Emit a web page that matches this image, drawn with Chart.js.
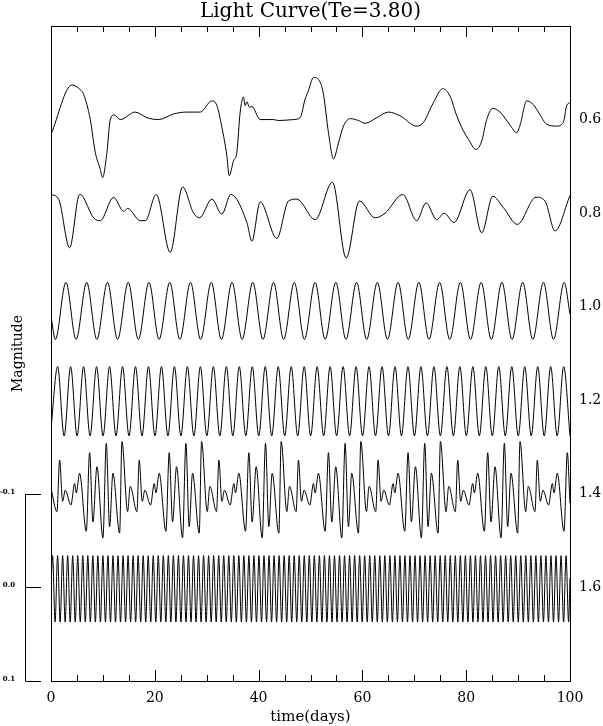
<!DOCTYPE html>
<html>
<head>
<meta charset="utf-8">
<title>Light Curve(Te=3.80)</title>
<script src="https://cdn.jsdelivr.net/npm/chart.js@4.4.1/dist/chart.umd.min.js"></script>
<style>
  body { margin: 0; background: #fff; }
  canvas { display: block; }
</style>
</head>
<body>
<canvas id="lightCurve" width="603" height="726"></canvas>
<script>
// curve labels (right side) and the magnitude offset each curve is drawn at
const curveLabels = ['0.6', '0.8', '1.0', '1.2', '1.4', '1.6'];
const curveOffsets = [-0.5, -0.4, -0.3, -0.2, -0.1, 0.0];
const scaleBarTicks = [-0.1, 0.0, 0.1];
const xTickLabels = [0, 20, 40, 60, 80, 100];

// 0.6
const t06 = [0, 4.04, 5.64, 6.28, 7.57, 8.53, 9.49, 9.94, 10.78, 11.42, 12.19, 13.34, 16.23, 18.48, 20.73, 23.61, 26.18, 28.75, 31.0, 31.96,
  32.92, 33.89, 34.33, 35.17, 35.81, 36.45, 37.09, 37.41, 37.74, 38.25, 38.70, 40.30, 42.87, 43.83, 46.72, 48.0, 48.97, 49.61, 50.57, 51.86,
  52.50, 53.46, 54.43, 55.39, 56.35, 57.64, 59.24, 60.52, 62.77, 65.02, 67.26, 70.47, 71.76, 73.68, 75.48, 76.89, 78.18, 79.46, 80.42, 81.90,
  82.99, 83.95, 85.11, 86.52, 88.45, 89.73, 90.37, 91.66, 92.94, 93.90, 95.51, 97.43, 98.72, 99.36, 100];
const m06 = [0.016, -0.037, -0.032, -0.027, 0.000, 0.035, 0.053, 0.062, 0.035, 0.000, -0.005, 0.000, -0.008, -0.002, 0.000, -0.006, -0.008, -0.008, -0.020, -0.015,
  0.008, 0.039, 0.060, 0.044, 0.035, -0.008, -0.024, -0.015, -0.019, -0.013, -0.014, 0.000, 0.000, 0.001, 0.000, -0.002, -0.022, -0.031, -0.045, -0.040,
  -0.027, 0.014, 0.042, 0.025, 0.007, -0.001, 0.001, 0.004, -0.002, -0.008, -0.004, 0.007, 0.003, -0.018, -0.033, -0.025, -0.004, 0.012, 0.021, 0.032,
  0.023, 0.000, -0.012, -0.008, 0.006, 0.014, 0.006, -0.020, -0.016, -0.008, 0.005, 0.007, 0.003, -0.015, -0.018];

// 0.8
const t08 = [0, 1.47, 3.59, 5.51, 5.96, 8.21, 9.49, 12.06, 13.99, 14.76, 17.20, 18.16, 20.28, 22.97, 25.35, 27.47, 28.62, 31.0, 32.92, 34.66,
  37.74, 38.70, 40.30, 43.51, 45.76, 47.37, 50.9, 54.23, 56.87, 59.43, 62.45, 64.38, 67.78, 70.47, 72.27, 74.32, 75.74, 77.66, 80.74, 82.99,
  85.11, 87.16, 89.86, 93.45, 95.19, 97.11, 100];
const m08 = [-0.020, -0.015, 0.037, -0.020, -0.019, 0.005, 0.008, -0.017, -0.002, -0.005, 0.008, 0.008, -0.020, 0.042, -0.028, 0.000, 0.005, -0.015, 0.001, -0.020,
  0.010, 0.030, -0.012, 0.027, -0.013, -0.015, 0.007, -0.033, 0.048, -0.013, 0.005, 0.000, -0.020, 0.008, -0.011, 0.007, 0.000, 0.010, -0.025, 0.021,
  -0.018, -0.006, 0.012, -0.017, -0.013, 0.019, -0.019];

// 1.0
const t10 = [0, 0.83, 2.88, 4.83, 6.88, 8.83, 10.88, 12.83, 14.88, 16.83, 18.88, 20.83, 22.88, 24.83, 26.88, 28.83, 30.88, 32.83, 34.88, 36.83,
  38.88, 40.83, 42.88, 44.83, 46.88, 48.83, 50.88, 52.83, 54.88, 56.83, 58.88, 60.83, 62.88, 64.83, 66.88, 68.83, 70.88, 72.83, 74.88, 76.83,
  78.88, 80.83, 82.88, 84.83, 86.88, 88.83, 90.88, 92.83, 94.88, 96.83, 98.88, 100];
const m10 = [0.010, 0.035, -0.026, 0.035, -0.026, 0.035, -0.026, 0.035, -0.026, 0.035, -0.026, 0.035, -0.026, 0.035, -0.026, 0.035, -0.026, 0.035, -0.026, 0.035,
  -0.026, 0.035, -0.026, 0.035, -0.026, 0.035, -0.026, 0.035, -0.026, 0.035, -0.026, 0.035, -0.026, 0.035, -0.026, 0.035, -0.026, 0.035, -0.026, 0.035,
  -0.026, 0.035, -0.026, 0.035, -0.026, 0.035, -0.026, 0.035, -0.026, 0.035, -0.026, 0.008];

// 1.2
const t12 = [0, 1.28, 2.53, 3.78, 5.03, 6.28, 7.53, 8.78, 10.03, 11.28, 12.53, 13.78, 15.03, 16.28, 17.53, 18.78, 20.03, 21.28, 22.53, 23.78,
  25.03, 26.28, 27.53, 28.78, 30.03, 31.28, 32.53, 33.78, 35.03, 36.28, 37.53, 38.78, 40.03, 41.28, 42.53, 43.78, 45.03, 46.28, 47.53, 48.78,
  50.03, 51.28, 52.53, 53.78, 55.03, 56.28, 57.53, 58.78, 60.03, 61.28, 62.53, 63.78, 65.03, 66.28, 67.53, 68.78, 70.03, 71.28, 72.53, 73.78,
  75.03, 76.28, 77.53, 78.78, 80.03, 81.28, 82.53, 83.78, 85.03, 86.28, 87.53, 88.78, 90.03, 91.28, 92.53, 93.78, 95.03, 96.28, 97.53, 98.78, 100];
const m12 = [0.030, -0.036, 0.038, -0.036, 0.038, -0.036, 0.038, -0.036, 0.038, -0.036, 0.038, -0.036, 0.038, -0.036, 0.038, -0.036, 0.038, -0.036, 0.038, -0.036,
  0.038, -0.036, 0.038, -0.036, 0.038, -0.036, 0.038, -0.036, 0.038, -0.036, 0.038, -0.036, 0.038, -0.036, 0.038, -0.036, 0.038, -0.036, 0.038, -0.036,
  0.038, -0.036, 0.038, -0.036, 0.038, -0.036, 0.038, -0.036, 0.038, -0.036, 0.038, -0.036, 0.038, -0.036, 0.038, -0.036, 0.038, -0.036, 0.038, -0.036,
  0.038, -0.036, 0.038, -0.036, 0.038, -0.036, 0.038, -0.036, 0.038, -0.036, 0.038, -0.036, 0.038, -0.036, 0.038, -0.036, 0.038, -0.036, 0.038, -0.036, 0.038];

// 1.4
const t14 = [0, 1.15,
  1.66, 2.24, 2.75, 3.84, 4.55, 4.87, 5.51, 6.80, 7.44, 8.08, 8.85, 10.01, 10.65, 11.29, 11.93, 13.22, 13.67, 14.76, 15.27, 16.55,
  17.00, 17.58, 18.09, 19.18, 19.89, 20.21, 20.85, 22.14, 22.78, 23.42, 24.19, 25.35, 25.99, 26.63, 27.27, 28.56, 29.01, 30.10, 30.61, 31.89,
  32.34, 32.92, 33.43, 34.52, 35.23, 35.55, 36.19, 37.48, 38.12, 38.76, 39.53, 40.69, 41.33, 41.97, 42.61, 43.90, 44.35, 45.44, 45.95, 47.23,
  47.68, 48.26, 48.77, 49.86, 50.57, 50.89, 51.53, 52.82, 53.46, 54.10, 54.87, 56.03, 56.67, 57.31, 57.95, 59.24, 59.69, 60.78, 61.29, 62.57,
  63.02, 63.60, 64.11, 65.20, 65.91, 66.23, 66.87, 68.16, 68.80, 69.44, 70.21, 71.37, 72.01, 72.65, 73.29, 74.58, 75.03, 76.12, 76.63, 77.91,
  78.36, 78.94, 79.45, 80.54, 81.25, 81.57, 82.21, 83.50, 84.14, 84.78, 85.55, 86.71, 87.35, 87.99, 88.63, 89.92, 90.37, 91.46, 91.97, 93.25,
  93.70, 94.28, 94.79, 95.88, 96.59, 96.91, 97.55, 98.84, 99.48, 100];
const m14 = [-0.006, 0.019,
  -0.036, 0.008, -0.004, 0.012, -0.011, -0.001, -0.022, 0.040, -0.044, 0.030, -0.029, 0.047, -0.054, 0.035, -0.022, 0.042, -0.056, 0.019, -0.008, 0.019,
  -0.036, 0.008, -0.004, 0.012, -0.011, -0.001, -0.022, 0.040, -0.044, 0.030, -0.029, 0.047, -0.054, 0.035, -0.022, 0.042, -0.056, 0.019, -0.008, 0.019,
  -0.036, 0.008, -0.004, 0.012, -0.011, -0.001, -0.022, 0.040, -0.044, 0.030, -0.029, 0.047, -0.054, 0.035, -0.022, 0.042, -0.056, 0.019, -0.008, 0.019,
  -0.036, 0.008, -0.004, 0.012, -0.011, -0.001, -0.022, 0.040, -0.044, 0.030, -0.029, 0.047, -0.054, 0.035, -0.022, 0.042, -0.056, 0.019, -0.008, 0.019,
  -0.036, 0.008, -0.004, 0.012, -0.011, -0.001, -0.022, 0.040, -0.044, 0.030, -0.029, 0.047, -0.054, 0.035, -0.022, 0.042, -0.056, 0.019, -0.008, 0.019,
  -0.036, 0.008, -0.004, 0.012, -0.011, -0.001, -0.022, 0.040, -0.044, 0.030, -0.029, 0.047, -0.054, 0.035, -0.022, 0.042, -0.056, 0.019, -0.008, 0.019,
  -0.036, 0.008, -0.004, 0.012, -0.011, -0.001, -0.022, 0.040, -0.044, 0.010];

// 1.6
const t16 = [0,
  0.30, 0.79, 1.27, 1.76, 2.24, 2.73, 3.21, 3.70, 4.18, 4.67, 5.15, 5.64, 6.12, 6.61, 7.09, 7.58, 8.06, 8.55, 9.03, 9.52,
  10.00, 10.49, 10.97, 11.46, 11.94, 12.43, 12.91, 13.40, 13.88, 14.37, 14.85, 15.34, 15.82, 16.31, 16.79, 17.28, 17.76, 18.25, 18.73, 19.22,
  19.70, 20.19, 20.67, 21.16, 21.64, 22.13, 22.61, 23.10, 23.58, 24.07, 24.55, 25.04, 25.52, 26.01, 26.49, 26.98, 27.46, 27.95, 28.43, 28.92,
  29.40, 29.89, 30.37, 30.86, 31.34, 31.83, 32.31, 32.80, 33.28, 33.77, 34.25, 34.74, 35.22, 35.71, 36.19, 36.68, 37.16, 37.65, 38.13, 38.62,
  39.10, 39.59, 40.07, 40.56, 41.04, 41.53, 42.01, 42.50, 42.98, 43.47, 43.95, 44.44, 44.92, 45.41, 45.89, 46.38, 46.86, 47.35, 47.83, 48.32,
  48.80, 49.29, 49.77, 50.26, 50.74, 51.23, 51.71, 52.20, 52.68, 53.17, 53.65, 54.14, 54.62, 55.11, 55.59, 56.08, 56.56, 57.05, 57.53, 58.02,
  58.50, 58.99, 59.47, 59.96, 60.44, 60.93, 61.41, 61.90, 62.38, 62.87, 63.35, 63.84, 64.32, 64.81, 65.29, 65.78, 66.26, 66.75, 67.23, 67.72,
  68.20, 68.69, 69.17, 69.66, 70.14, 70.63, 71.11, 71.60, 72.08, 72.57, 73.05, 73.54, 74.02, 74.51, 74.99, 75.48, 75.96, 76.45, 76.93, 77.42,
  77.90, 78.39, 78.87, 79.36, 79.84, 80.33, 80.81, 81.30, 81.78, 82.27, 82.75, 83.24, 83.72, 84.21, 84.69, 85.18, 85.66, 86.15, 86.63, 87.12,
  87.60, 88.09, 88.57, 89.06, 89.54, 90.03, 90.51, 91.00, 91.48, 91.97, 92.45, 92.94, 93.42, 93.91, 94.39, 94.88, 95.36, 95.85, 96.33, 96.82,
  97.30, 97.79, 98.27, 98.76, 99.24, 99.73, 100];
const m16 = [0.000,
  -0.034, 0.037, -0.034, 0.037, -0.034, 0.037, -0.034, 0.037, -0.034, 0.037, -0.034, 0.037, -0.034, 0.037, -0.034, 0.037, -0.034, 0.037, -0.034, 0.037,
  -0.034, 0.037, -0.034, 0.037, -0.034, 0.037, -0.034, 0.037, -0.034, 0.037, -0.034, 0.037, -0.034, 0.037, -0.034, 0.037, -0.034, 0.037, -0.034, 0.037,
  -0.034, 0.037, -0.034, 0.037, -0.034, 0.037, -0.034, 0.037, -0.034, 0.037, -0.034, 0.037, -0.034, 0.037, -0.034, 0.037, -0.034, 0.037, -0.034, 0.037,
  -0.034, 0.037, -0.034, 0.037, -0.034, 0.037, -0.034, 0.037, -0.034, 0.037, -0.034, 0.037, -0.034, 0.037, -0.034, 0.037, -0.034, 0.037, -0.034, 0.037,
  -0.034, 0.037, -0.034, 0.037, -0.034, 0.037, -0.034, 0.037, -0.034, 0.037, -0.034, 0.037, -0.034, 0.037, -0.034, 0.037, -0.034, 0.037, -0.034, 0.037,
  -0.034, 0.037, -0.034, 0.037, -0.034, 0.037, -0.034, 0.037, -0.034, 0.037, -0.034, 0.037, -0.034, 0.037, -0.034, 0.037, -0.034, 0.037, -0.034, 0.037,
  -0.034, 0.037, -0.034, 0.037, -0.034, 0.037, -0.034, 0.037, -0.034, 0.037, -0.034, 0.037, -0.034, 0.037, -0.034, 0.037, -0.034, 0.037, -0.034, 0.037,
  -0.034, 0.037, -0.034, 0.037, -0.034, 0.037, -0.034, 0.037, -0.034, 0.037, -0.034, 0.037, -0.034, 0.037, -0.034, 0.037, -0.034, 0.037, -0.034, 0.037,
  -0.034, 0.037, -0.034, 0.037, -0.034, 0.037, -0.034, 0.037, -0.034, 0.037, -0.034, 0.037, -0.034, 0.037, -0.034, 0.037, -0.034, 0.037, -0.034, 0.037,
  -0.034, 0.037, -0.034, 0.037, -0.034, 0.037, -0.034, 0.037, -0.034, 0.037, -0.034, 0.037, -0.034, 0.037, -0.034, 0.037, -0.034, 0.037, -0.034, 0.037,
  -0.034, 0.037, -0.034, 0.037, -0.034, 0.037, -0.010];

const curveTimes = [t06, t08, t10, t12, t14, t16];
const curveMags = [m06, m08, m10, m12, m14, m16];

Chart.defaults.font.family = "'DejaVu Serif', serif";
Chart.defaults.color = '#000';

// box, inward ticks and the little magnitude scale bar on the left
const framePlugin = {
  id: 'frame',
  afterDatasetsDraw(chart) {
    const { ctx, chartArea: a, scales: { x, y } } = chart;
    ctx.save();
    ctx.strokeStyle = '#000';
    ctx.lineWidth = 1;
    ctx.strokeRect(a.left + 0.5, a.top + 0.5, a.right - a.left, a.bottom - a.top);

    ctx.beginPath();
    x.ticks.forEach(tick => {
      const px = Math.round(x.getPixelForValue(tick.value)) + 0.5;
      const len = xTickLabels.includes(tick.value) ? 11 : 6;
      ctx.moveTo(px, a.bottom);
      ctx.lineTo(px, a.bottom - len);
      ctx.moveTo(px, a.top);
      ctx.lineTo(px, a.top + len);
    });
    ctx.stroke();

    const barX = 25.5;
    ctx.beginPath();
    ctx.moveTo(barX, y.getPixelForValue(scaleBarTicks[0]));
    ctx.lineTo(barX, y.getPixelForValue(scaleBarTicks[scaleBarTicks.length - 1]));
    scaleBarTicks.forEach(v => {
      const py = Math.round(y.getPixelForValue(v)) + 0.5;
      ctx.moveTo(barX, py);
      ctx.lineTo(41, py);
    });
    ctx.stroke();

    ctx.fillStyle = '#000';
    ctx.font = "bold 7px 'DejaVu Serif'";
    ctx.textAlign = 'right';
    ctx.textBaseline = 'middle';
    scaleBarTicks.forEach(v => {
      ctx.fillText(v.toFixed(1), 15, y.getPixelForValue(v) - 2);
    });
    ctx.restore();
  }
};

const datasets = curveTimes.map((times, i) => ({
  label: curveLabels[i],
  data: times.map((t, j) => ({ x: t, y: curveOffsets[i] + curveMags[i][j] })),
  borderColor: '#000',
  borderWidth: 1,
  pointRadius: 0,
  fill: false,
  cubicInterpolationMode: 'monotone'
}));

const ctx = document.getElementById('lightCurve').getContext('2d');
new Chart(ctx, {
  type: 'line',
  data: { datasets: datasets },
  options: {
    responsive: false,
    animation: false,
    devicePixelRatio: 1,
    layout: { padding: 0 },
    plugins: {
      legend: { display: false },
      tooltip: { enabled: false },
      title: {
        display: true,
        fullSize: false,
        text: 'Light Curve(Te=3.80)',
        font: { size: 20, weight: 'normal' },
        padding: { top: 0, bottom: 2 }
      }
    },
    scales: {
      x: {
        type: 'linear',
        min: 0,
        max: 100,
        ticks: {
          stepSize: 5,
          autoSkip: false,
          maxRotation: 0,
          padding: 9,
          font: { size: 14 },
          callback: v => xTickLabels.includes(v) ? String(v) : ''
        },
        grid: { display: false, drawTicks: false },
        border: { display: false },
        title: { display: true, text: 'time(days)', font: { size: 15 }, padding: { top: 0, bottom: 0 } },
        afterFit: scale => { scale.height = 45; }
      },
      y: {
        type: 'linear',
        position: 'left',
        min: -0.6,
        max: 0.1,
        reverse: true,
        ticks: { display: false },
        grid: { display: false, drawTicks: false },
        border: { display: false },
        title: { display: true, text: 'Magnitude', font: { size: 14 }, padding: { top: 10, bottom: 0 } },
        afterFit: scale => { scale.width = 51; }
      },
      y2: {
        type: 'linear',
        position: 'right',
        min: -0.6,
        max: 0.1,
        reverse: true,
        afterBuildTicks: scale => { scale.ticks = curveOffsets.map(v => ({ value: v })); },
        ticks: {
          autoSkip: false,
          padding: 9,
          font: { size: 14 },
          callback: v => curveLabels[curveOffsets.indexOf(v)]
        },
        grid: { display: false, drawTicks: false },
        border: { display: false },
        afterFit: scale => { scale.width = 33; }
      }
    }
  },
  plugins: [framePlugin]
});
</script>
</body>
</html>
